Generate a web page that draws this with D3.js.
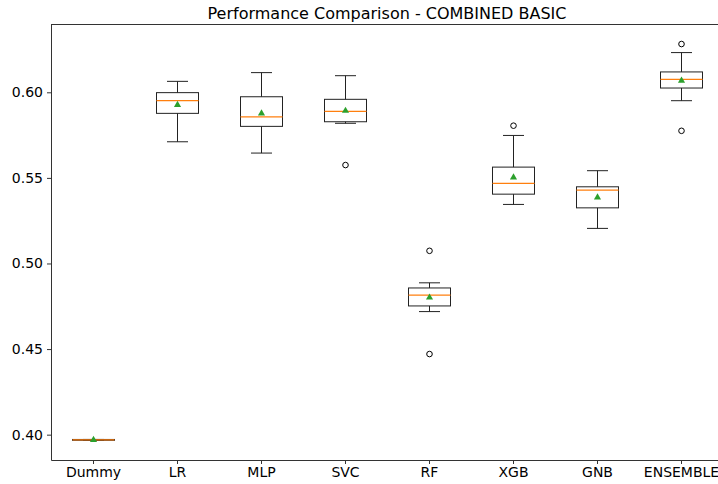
<!DOCTYPE html>
<html>
<head>
<meta charset="utf-8">
<script src="https://cdn.jsdelivr.net/npm/d3@7"></script>
<style>
  html, body { margin: 0; padding: 0; background: #fff; }
  svg { display: block; font-family: "DejaVu Sans", sans-serif; }
</style>
</head>
<body>
<svg id="chart" width="718" height="484"></svg>
<script>
// Model names along the x axis
const models = ["Dummy", "LR", "MLP", "SVC", "RF", "XGB", "GNB", "ENSEMBLE"];

// Box-plot summaries per model
const whiskerLow  = [0.3967, 0.5711, 0.5645, 0.5819, 0.4719, 0.5345, 0.5205, 0.5951];
const q1          = [0.3967, 0.5877, 0.5801, 0.5828, 0.4752, 0.5405, 0.5325, 0.6025];
const medians     = [0.3969, 0.5951, 0.5857, 0.5889, 0.4815, 0.5468, 0.5429, 0.6076];
const q3          = [0.3972, 0.5998, 0.5974, 0.5959, 0.4857, 0.5563, 0.5448, 0.6119];
const whiskerHigh = [0.3972, 0.6064, 0.6115, 0.6097, 0.4887, 0.5748, 0.5542, 0.6232];
const means       = [0.3969, 0.5926, 0.5877, 0.5892, 0.4801, 0.5503, 0.5386, 0.6068];
const outliers    = [[], [], [], [0.5575], [0.5074, 0.4471], [0.5805], [], [0.6282, 0.5775]];

// Y axis ticks
const yTicks = [0.40, 0.45, 0.50, 0.55, 0.60];

const svg = d3.select("#chart");
const margin = { left: 51, top: 24, right: -5, bottom: 24 };
const W = 718, H = 484;

const x = d3.scaleLinear().domain([0.5, models.length + 0.5]).range([margin.left, W - margin.right]);
const y = d3.scaleLinear().domain([0.3852, 0.6399]).range([H - margin.bottom, margin.top]);

const boxHalf = (x(1.25) - x(1));
const capHalf = boxHalf / 2;

// Title
svg.append("text")
  .attr("x", (x(0.5) + x(8.5)) / 2)
  .attr("y", 19)
  .attr("text-anchor", "middle")
  .attr("font-size", 16)
  .attr("fill", "#000")
  .text("Performance Comparison - COMBINED BASIC");

// Axes
const yAxis = svg.append("g")
  .attr("transform", `translate(${margin.left},0)`)
  .call(d3.axisLeft(y).tickValues(yTicks).tickFormat(d3.format(".2f"))
    .tickSizeInner(4).tickSizeOuter(0).tickPadding(4));
const xAxis = svg.append("g")
  .attr("transform", `translate(0,${H - margin.bottom})`)
  .call(d3.axisBottom(x).tickValues(d3.range(1, models.length + 1)).tickFormat(i => models[i - 1])
    .tickSizeInner(4).tickSizeOuter(0).tickPadding(3));

[yAxis, xAxis].forEach(g => {
  g.selectAll("text").attr("font-size", 14).attr("fill", "#000").attr("font-family", "DejaVu Sans, sans-serif");
  g.selectAll("line").attr("stroke", "#333");
  g.select(".domain").attr("stroke", "#333");
});

// Top spine
svg.append("line")
  .attr("x1", x(0.5)).attr("x2", x(8.5))
  .attr("y1", margin.top + 0.5).attr("y2", margin.top + 0.5)
  .attr("stroke", "#333");

const g = svg.append("g");
models.forEach((m, i) => {
  const cx = Math.round(x(i + 1)) + 0.5;
  const lineCol = "#222";
  // whiskers
  g.append("line").attr("x1", cx).attr("x2", cx).attr("y1", y(q3[i])).attr("y2", y(whiskerHigh[i])).attr("stroke", lineCol);
  g.append("line").attr("x1", cx).attr("x2", cx).attr("y1", y(q1[i])).attr("y2", y(whiskerLow[i])).attr("stroke", lineCol);
  // caps
  g.append("line").attr("x1", cx - capHalf).attr("x2", cx + capHalf).attr("y1", y(whiskerHigh[i])).attr("y2", y(whiskerHigh[i])).attr("stroke", lineCol);
  g.append("line").attr("x1", cx - capHalf).attr("x2", cx + capHalf).attr("y1", y(whiskerLow[i])).attr("y2", y(whiskerLow[i])).attr("stroke", lineCol);
  // box
  g.append("rect")
    .attr("x", cx - boxHalf).attr("width", boxHalf * 2)
    .attr("y", y(q3[i])).attr("height", Math.max(y(q1[i]) - y(q3[i]), 0.5))
    .attr("fill", "none").attr("stroke", lineCol);
  // median
  g.append("line").attr("x1", cx - boxHalf).attr("x2", cx + boxHalf).attr("y1", y(medians[i])).attr("y2", y(medians[i]))
    .attr("stroke", "#ff7f0e").attr("stroke-width", 1.2);
  // mean
  g.append("path")
    .attr("d", d3.symbol(d3.symbolTriangle, 22)())
    .attr("transform", `translate(${cx},${y(means[i])})`)
    .attr("fill", "#2ca02c");
  // fliers
  outliers[i].forEach(v => {
    g.append("circle").attr("cx", cx).attr("cy", y(v)).attr("r", 2.8)
      .attr("fill", "none").attr("stroke", "#000").attr("stroke-width", 1);
  });
});
</script>
</body>
</html>
